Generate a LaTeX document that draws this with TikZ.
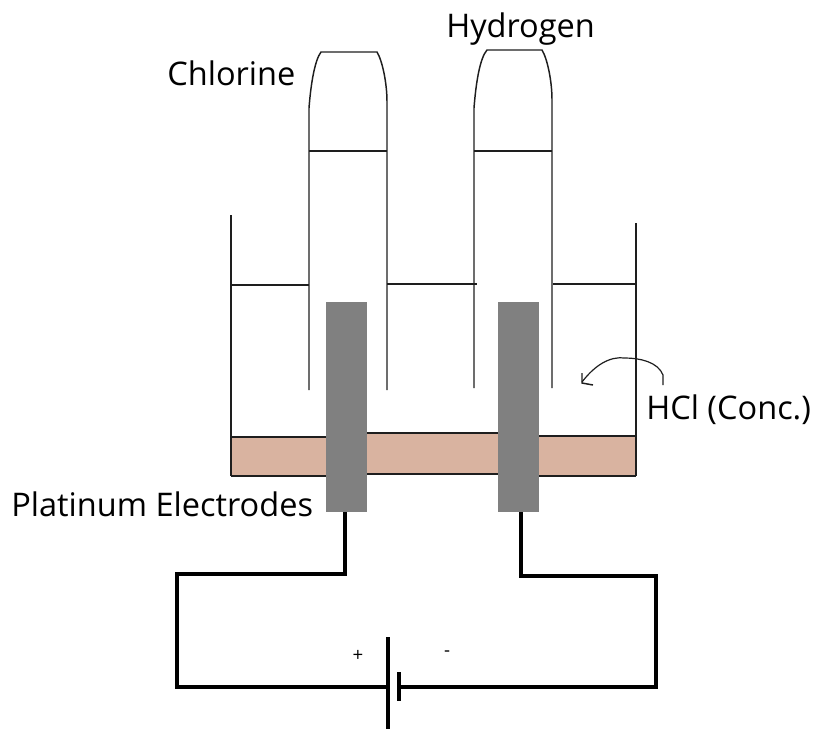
\documentclass[tikz,border=0pt]{standalone}
\usepackage{fontspec}
\setmainfont{Open Sans}
\definecolor{sediment}{HTML}{D9B3A0}
\definecolor{electrode}{HTML}{808080}
\definecolor{ink}{HTML}{1E1E1E}
\tikzset{
  thin line/.style={draw=ink,line width=1.1pt},
  wire/.style={draw=black,line width=3pt,line join=miter},
  electrodebox/.style={fill=electrode,draw=none,inner sep=0pt,minimum width=30.75pt,minimum height=157.5pt},
  lbl/.style={font=\fontsize{24.4}{28}\selectfont,text=black,inner sep=0pt,anchor=base west},
  sign/.style={font=\fontsize{14}{16}\selectfont,text=black,inner sep=0pt}
}
\begin{document}
\begin{tikzpicture}[x=0.75pt,y=-0.75pt]
\useasboundingbox (0,0) rectangle (813,729);
% sediment
\fill[sediment] (231,437) rectangle (330,476);
\fill[sediment] (360,433) rectangle (505,474);
\fill[sediment] (530,436) rectangle (636,476);
\draw[thin line] (231,476) -- (326,476);
\draw[thin line] (367,474) -- (498,474);
\draw[thin line] (539,476) -- (636,476);
\draw[thin line] (367,433) -- (498,433);
\draw[thin line] (539,436) -- (636,436);
\draw[thin line] (231,437) -- (326,437);
% beaker
\draw[thin line] (231,215) -- (231,476);
\draw[thin line] (636,223) -- (636,476);
% liquid levels
\draw[thin line] (231,285) -- (309,285);
\draw[thin line] (387,284) -- (477,284);
\draw[thin line] (553,284) -- (636,284);
% tube 1
\draw[thin line] (309,390) -- (309,108) .. controls (311,82) and (315,60) .. (321,52) -- (377,52) .. controls (382,60) and (387,82) .. (387,102) -- (387,390);
\draw[thin line] (309,151) -- (387,151);
% tube 2
\draw[thin line] (474,388) -- (474,108) .. controls (476,82) and (480,58) .. (487,50) -- (542,50) .. controls (547,58) and (552,80) .. (552,100) -- (552,388);
\draw[thin line] (474,151) -- (552,151);
% electrodes
\node[electrodebox] (anode) at (346.5,407) {};
\node[electrodebox] (cathode) at (518.5,407) {};
% wires
\coordinate (lw1) at (345,574);
\coordinate (lw2) at (177,574);
\coordinate (lw3) at (177,687);
\coordinate (cellA) at (388,687);
\coordinate (rw1) at (521,576);
\coordinate (rw2) at (656,576);
\coordinate (rw3) at (656,687);
\coordinate (cellB) at (399,687);
\draw[wire] (anode.south -| lw1) -- (lw1) -- (lw2) -- (lw3) -- (cellA);
\draw[wire] (cathode.south -| rw1) -- (rw1) -- (rw2) -- (rw3) -- (cellB);
% battery
\draw[wire] (388,637) -- (388,729);
\draw[wire] (399,672) -- (399,701);
\node[sign] (plus) at (358,656) {+};
\node[sign] (minus) at (447,654) {-};
% arrow
\draw[draw=ink,line width=0.9pt] (663,385) -- (663,375) .. controls (658,362) and (640,358) .. (625,358) .. controls (610,356) and (595,365) .. (582,382);
\draw[draw=ink,line width=1.1pt] (582,373) -- (582,383) -- (593,385);
% labels
\node[lbl] (chlorine) at (167,85) {Chlorine};
\node[lbl] (hydrogen) at (446,37) {Hydrogen};
\node[lbl] (hcl) at (646,419) {HCl (Conc.)};
\node[lbl] (pt) at (11,516) {Platinum Electrodes};
\end{tikzpicture}
\end{document}
